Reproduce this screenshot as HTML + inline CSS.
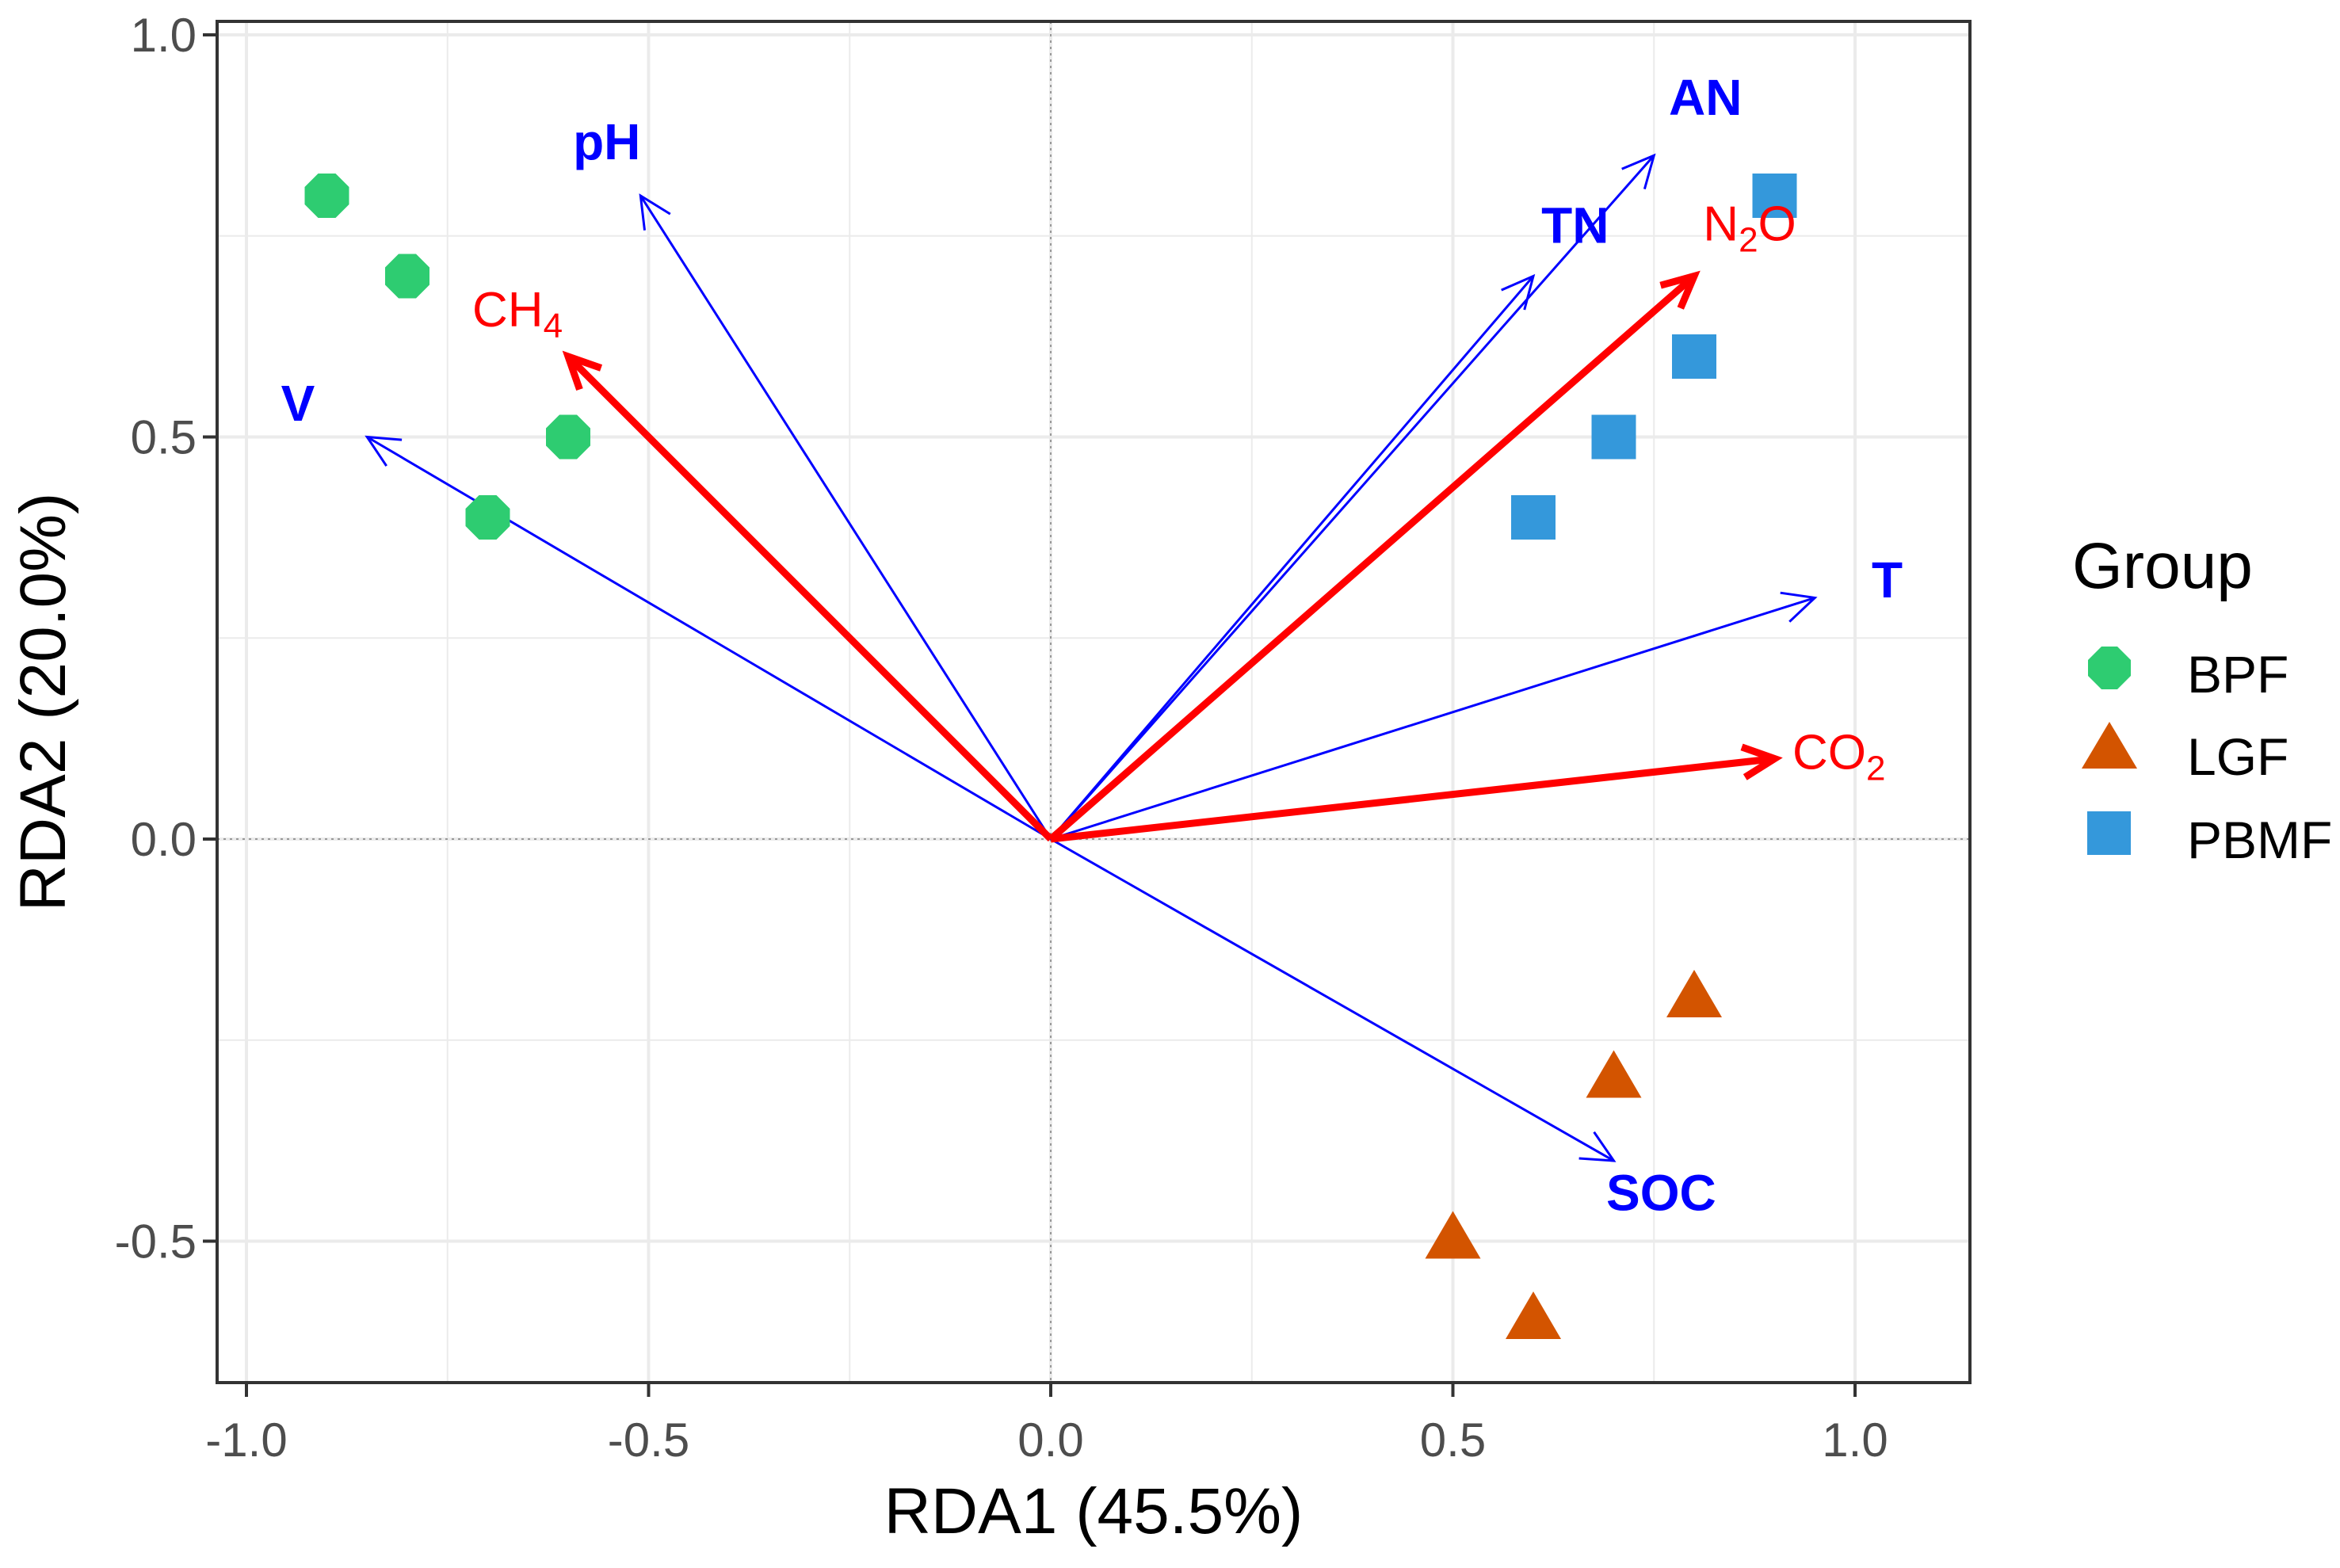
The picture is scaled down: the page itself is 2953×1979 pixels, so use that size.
<!DOCTYPE html>
<html><head><meta charset="utf-8"><style>
html,body{margin:0;padding:0;background:#fff;}
svg{display:block;font-family:"Liberation Sans",sans-serif;}
</style></head><body>
<svg id="chart" width="2953" height="1979" viewBox="0 0 2953 1979" xmlns="http://www.w3.org/2000/svg">
<g id="grid"></g>
<g id="zero"></g>
<g id="arrows"></g>
<g id="points"></g>
<g id="labels"></g>
<rect x="274" y="27" width="2212" height="1718" fill="none" stroke="#333" stroke-width="4"/>
<g id="axes"></g>
<text x="1380" y="1935" font-size="82" text-anchor="middle" fill="#000">RDA1 (45.5%)</text>
<text transform="translate(82,886) rotate(-90)" font-size="82" text-anchor="middle" fill="#000">RDA2 (20.0%)</text>
<g>
<text x="2615" y="742" font-size="82" fill="#000">Group</text>
<polygon points="2652,816 2672,816 2689,833 2689,853 2672,870 2652,870 2635,853 2635,833" fill="#2ECC71"/>
<text x="2760" y="874" font-size="66" fill="#000">BPF</text>
<polygon points="2662,911 2697,970 2627,970" fill="#D35400"/>
<text x="2760" y="978" font-size="66" fill="#000">LGF</text>
<rect x="2634" y="1024" width="55" height="55" fill="#3498DB"/>
<text x="2760" y="1083" font-size="66" fill="#000">PBMF</text>
</g>
</svg>
<script>
const xTicks=[-1.0,-0.5,0.0,0.5,1.0];
const yTicks=[-0.5,0.0,0.5,1.0];
const xTickLabels=["-1.0","-0.5","0.0","0.5","1.0"];
const yTickLabels=["-0.5","0.0","0.5","1.0"];
const bpfX=[-0.9,-0.8,-0.6,-0.7];
const bpfY=[0.8,0.7,0.5,0.4];
const lgfX=[0.8,0.7,0.5,0.6];
const lgfY=[-0.2,-0.3,-0.5,-0.6];
const pbmfX=[0.9,0.8,0.7,0.6];
const pbmfY=[0.8,0.6,0.5,0.4];
const envNames=["pH","V","TN","AN","T","SOC"];
const envX=[-0.51,-0.85,0.6,0.75,0.95,0.7];
const envY=[0.8,0.5,0.7,0.85,0.3,-0.4];
const envLabX=[-0.552,-0.936,0.652,0.814,1.04,0.759];
const envLabY=[0.868,0.543,0.764,0.923,0.323,-0.439];
const gasNames=["CH","N","CO"];
const gasSubs=["4","2","2"];
const gasTail=["","O",""];
const gasX=[-0.6,0.8,0.9];
const gasY=[0.6,0.7,0.1];
const gasLabX=[-0.663,0.869,0.98];
const gasLabY=[0.659,0.766,0.109];

const NS="http://www.w3.org/2000/svg";
const X0=1326,Y0=1059,U=1015;
function sx(v){return X0+U*v;}
function sy(v){return Y0-U*v;}
function mk(tag,attrs,parent){const e=document.createElementNS(NS,tag);for(const k in attrs)e.setAttribute(k,attrs[k]);parent.appendChild(e);return e;}
const grid=document.getElementById('grid');
const L=274,R=2486,T=27,B=1745;
for(let v=-1;v<=1.001;v+=0.25){
 const g=mk('line',{x1:sx(v),x2:sx(v),y1:T,y2:B,stroke:'#EBEBEB','stroke-width':Math.abs(v*2-Math.round(v*2))<1e-6?4:2},grid);
 
 
}
for(let v=-0.5;v<=1.001;v+=0.25){
 const g=mk('line',{x1:L,x2:R,y1:sy(v),y2:sy(v),stroke:'#EBEBEB','stroke-width':Math.abs(v*2-Math.round(v*2))<1e-6?4:2},grid);
 
 
}
const zero=document.getElementById('zero');
const zx=mk('line',{x1:sx(0),x2:sx(0),y1:T,y2:B,stroke:'#999','stroke-width':2,'stroke-dasharray':'3,5'},zero);


const zy=mk('line',{x1:L,x2:R,y1:sy(0),y2:sy(0),stroke:'#999','stroke-width':2,'stroke-dasharray':'3,5'},zero);



const axes=document.getElementById('axes');
xTicks.forEach((v,i)=>{
 const t=mk('line',{x1:sx(v),x2:sx(v),y1:B,y2:B+18,stroke:'#333','stroke-width':4},axes);
 
 
 const l=mk('text',{x:sx(v),y:1838,'font-size':60,'text-anchor':'middle',fill:'#4D4D4D'},axes);
 l.textContent=xTickLabels[i];
 
 
});
yTicks.forEach((v,i)=>{
 const t=mk('line',{x1:L-18,x2:L,y1:sy(v),y2:sy(v),stroke:'#333','stroke-width':4},axes);
 
 
 const l=mk('text',{x:L-26,y:sy(v)+21,'font-size':60,'text-anchor':'end',fill:'#4D4D4D'},axes);
 l.textContent=yTickLabels[i];
 
 
});

const arrows=document.getElementById('arrows');
function arrow(x,y,color,w,head,name){
 const x2=sx(x),y2=sy(y),x1=sx(0),y1=sy(0);
 const a=Math.atan2(y2-y1,x2-x1);
 const g=mk('g',{},arrows);
 
 
 mk('line',{x1:x1,y1:y1,x2:x2,y2:y2,stroke:color,'stroke-width':w,'stroke-linecap':'butt'},g);
 const p1=[x2-head*Math.cos(a-0.45),y2-head*Math.sin(a-0.45)];
 const p2=[x2-head*Math.cos(a+0.45),y2-head*Math.sin(a+0.45)];
 mk('polyline',{points:`${p1[0]},${p1[1]} ${x2},${y2} ${p2[0]},${p2[1]}`,fill:'none',stroke:color,'stroke-width':w,'stroke-linejoin':'miter'},g);
}
envNames.forEach((n,i)=>arrow(envX[i],envY[i],'#0000FF',3,44,'arrow-'+n.toLowerCase()));
gasNames.forEach((n,i)=>arrow(gasX[i],gasY[i],'#FF0000',9,44,'arrow-'+n.toLowerCase()+gasSubs[i]));

const pts=document.getElementById('points');
bpfX.forEach((x,i)=>{
 const cx=sx(x),cy=sy(bpfY[i]),r=28,s=11;
 const p=mk('polygon',{points:`${cx-s},${cy-r} ${cx+s},${cy-r} ${cx+r},${cy-s} ${cx+r},${cy+s} ${cx+s},${cy+r} ${cx-s},${cy+r} ${cx-r},${cy+s} ${cx-r},${cy-s}`,fill:'#2ECC71'},pts);
 
 
});
lgfX.forEach((x,i)=>{
 const cx=sx(x),cy=sy(lgfY[i]);
 const p=mk('polygon',{points:`${cx},${cy-38} ${cx+35},${cy+22} ${cx-35},${cy+22}`,fill:'#D35400'},pts);
 
 
});
pbmfX.forEach((x,i)=>{
 const cx=sx(x),cy=sy(pbmfY[i]);
 const p=mk('rect',{x:cx-28,y:cy-28,width:56,height:56,fill:'#3498DB'},pts);
 
 
});

const labs=document.getElementById('labels');
envNames.forEach((n,i)=>{
 const t=mk('text',{x:sx(envLabX[i]),y:sy(envLabY[i])+23,'font-size':64,'font-weight':'bold','text-anchor':'middle',fill:'#0000FF'},labs);
 t.textContent=n;
 
 
});
gasNames.forEach((n,i)=>{
 const t=mk('text',{x:sx(gasLabX[i]),y:sy(gasLabY[i])+22,'font-size':62,'text-anchor':'middle',fill:'#FF0000'},labs);
 
 
 const a=document.createElementNS(NS,'tspan');a.textContent=n;t.appendChild(a);
 const b=document.createElementNS(NS,'tspan');b.setAttribute('font-size','44');b.setAttribute('dy','14');b.textContent=gasSubs[i];t.appendChild(b);
 if(gasTail[i]){const c=document.createElementNS(NS,'tspan');c.setAttribute('dy','-14');c.textContent=gasTail[i];t.appendChild(c);}
});
</script>
</body></html>
